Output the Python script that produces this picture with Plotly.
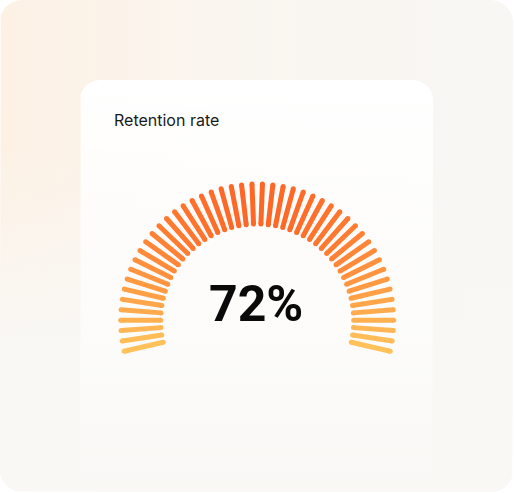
import math
import plotly.graph_objects as go

# ---- data ----
title_text = "Retention rate"
retention_value = 72          # percent
tick_count = 48               # number of radial segments in the gauge
arc_start_deg = -13.0         # angle of the right-most segment
arc_end_deg = 193.0           # angle of the left-most segment
top_color = (255, 90, 30)
bottom_color = (255, 196, 92)

W, H = 514, 493
cx, cy = 257.2, 320.5
r_in, r_out = 96.5, 136.5
tick_w = 5


def rounded_rect(x0, y0, x1, y1, r, n=12):
    pts = []
    corners = [
        (x1 - r, y0 + r, -90, 0),
        (x1 - r, y1 - r, 0, 90),
        (x0 + r, y1 - r, 90, 180),
        (x0 + r, y0 + r, 180, 270),
    ]
    for ccx, ccy, a0, a1 in corners:
        for i in range(n + 1):
            a = math.radians(a0 + (a1 - a0) * i / n)
            pts.append((ccx + r * math.cos(a), ccy + r * math.sin(a)))
    pts.append(pts[0])
    return [p[0] for p in pts], [p[1] for p in pts]


fig = go.Figure()

# outer background panel (peach tint on the left)
bx, by = rounded_rect(0, 0, W - 1, H - 1, 22)
fig.add_trace(go.Scatter(
    x=bx, y=by, mode="lines", fill="toself", line=dict(width=0),
    fillgradient=dict(type="horizontal", start=0, stop=W,
                      colorscale=[[0, "#FDF1E4"], [0.4, "#FAF5EF"], [1, "#F8F7F4"]]),
    hoverinfo="skip", showlegend=False))
# fade the tint toward the bottom
fig.add_trace(go.Scatter(
    x=bx, y=by, mode="lines", fill="toself", line=dict(width=0),
    fillgradient=dict(type="vertical", start=0, stop=H,
                      colorscale=[[0, "rgba(249,248,245,0)"], [0.3, "rgba(249,248,245,0)"],
                                  [0.7, "rgba(249,248,245,1)"], [1, "rgba(249,248,245,1)"]]),
    hoverinfo="skip", showlegend=False))

# card
kx, ky = rounded_rect(80, 80, 433, 640, 20)
fig.add_trace(go.Scatter(
    x=kx, y=ky, mode="lines", fill="toself", line=dict(width=0),
    fillgradient=dict(type="vertical", start=80, stop=493,
                      colorscale=[[0, "rgba(255,255,255,1)"], [0.6, "rgba(255,255,255,0.55)"],
                                  [1, "rgba(255,255,255,0.0)"]]),
    hoverinfo="skip", showlegend=False))

# gauge segments
y_top, y_bot = cy - r_out, cy - r_out * math.sin(math.radians(arc_start_deg))
step = (arc_end_deg - arc_start_deg) / (tick_count - 1)
for i in range(tick_count):
    a = math.radians(arc_start_deg + i * step)
    xs = [cx + r_in * math.cos(a), cx + r_out * math.cos(a)]
    ys = [cy - r_in * math.sin(a), cy - r_out * math.sin(a)]
    ym = (ys[0] + ys[1]) / 2
    t = min(1, max(0, (ym - y_top) / (y_bot - y_top)))
    c = tuple(round(top_color[k] + (bottom_color[k] - top_color[k]) * t) for k in range(3))
    col = "rgb(%d,%d,%d)" % c
    fig.add_trace(go.Scatter(
        x=xs, y=ys, mode="lines+markers",
        line=dict(color=col, width=tick_w),
        marker=dict(color=col, size=tick_w, line=dict(width=0)),
        hoverinfo="skip", showlegend=False))

fig.add_annotation(x=112.3, y=120, xref="x", yref="y", text=title_text,
                   showarrow=False, xanchor="left", yanchor="middle",
                   font=dict(family="Inter", size=16, color="#1a1a1a"))
fig.add_annotation(x=255.5, y=303.5, xref="x", yref="y", text=f"{retention_value}%",
                   showarrow=False, xanchor="center", yanchor="middle",
                   font=dict(family="Roboto", size=50, color="#0a0a0a", weight=700))

fig.update_layout(
    width=W, height=H, margin=dict(l=0, r=0, t=0, b=0),
    paper_bgcolor="white", plot_bgcolor="rgba(0,0,0,0)",
    xaxis=dict(range=[0, W], visible=False, fixedrange=True),
    yaxis=dict(range=[H, 0], visible=False, fixedrange=True),
)
fig.write_html("out.html", config={"displayModeBar": False})
